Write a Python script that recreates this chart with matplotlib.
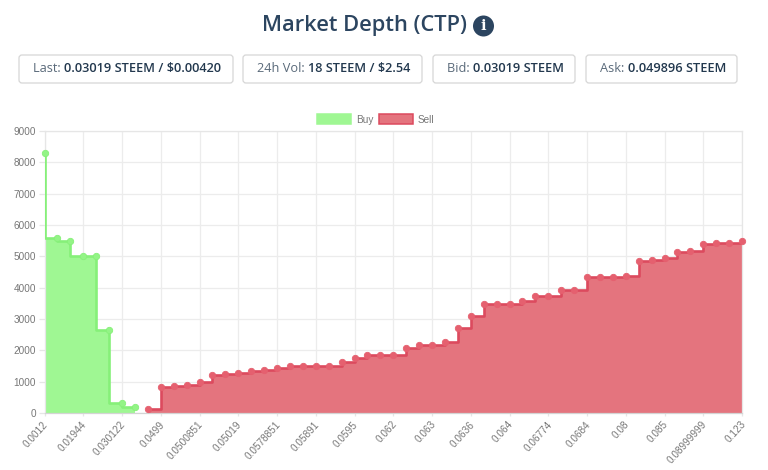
import numpy as np
import matplotlib
matplotlib.use('Agg')
import matplotlib.pyplot as plt
from matplotlib.patches import FancyBboxPatch, Circle, Patch
from matplotlib.transforms import ScaledTranslation

# Verdier lest av bildet
tick_labels = ['0.0012', '0.01944', '0.030122', '0.0499', '0.0500851', '0.05019',
               '0.0578851', '0.05891', '0.0595', '0.062', '0.063', '0.0636', '0.064',
               '0.06774', '0.0684', '0.08', '0.085', '0.08999999', '0.123']
buy = [8300, 5600, 5500, 5000, 5000, 2650, 330, 200]
sell = [120, 840, 870, 900, 1000, 1200, 1260, 1290, 1330, 1360, 1450, 1500, 1500, 1510, 1510,
        1640, 1770, 1850, 1860, 1860, 2060, 2160, 2170, 2265, 2700, 3095, 3480, 3490, 3490,
        3575, 3735, 3745, 3935, 3935, 4330, 4350, 4350, 4360, 4860, 4895, 4945, 5150, 5170,
        5395, 5415, 5435, 5480]
boxes = [('Last: ', '0.03019 STEEM / $0.00420', 19, 233),
         ('24h Vol: ', '18 STEEM / $2.54', 243, 422),
         ('Bid: ', '0.03019 STEEM', 433, 575),
         ('Ask: ', '0.049896 STEEM', 586, 737)]

W, H = 768, 470
fig = plt.figure(figsize=(W / 100, H / 100), dpi=100)

# Akse med pikselkoordinater for tittel og bokser
bg = fig.add_axes([0, 0, 1, 1])
bg.set_xlim(0, W)
bg.set_ylim(H, 0)
bg.axis('off')

navy = '#2c4560'
bg.text(364.5, 25.5, 'Market Depth (CTP)', family='Open Sans', fontsize=15.75, weight='semibold',
        color=navy, ha='center', va='center')
bg.add_patch(Circle((483.5, 26), 10.5, color=navy, lw=0))
bg.text(483.5, 26, 'i', family='DejaVu Serif', fontsize=10.5, weight='bold', color='white',
        ha='center', va='center')

for light, bold, x0, x1 in boxes:
    bg.add_patch(FancyBboxPatch((x0, 55), x1 - x0, 28, boxstyle='round,pad=0,rounding_size=3',
                                fc='white', ec='#d6d6d6', lw=0.9))
    t = bg.text(x0 + 14, 69, light, family='Open Sans', fontsize=9.2, color='#5a6a7a', va='center')
    fig.canvas.draw()
    bb = t.get_window_extent()
    bg.text(bb.x1, 69, bold, family='Open Sans', fontsize=9.2, weight='semibold',
            color='#22384e', va='center')

# Selve diagrammet
ax = fig.add_axes([44.5 / W, (H - 413) / H, (742 - 44.5) / W, (413 - 131) / H])
ax.patch.set_alpha(0)
x_buy = np.arange(len(buy))
x_sell = np.arange(len(sell)) + 8
n = len(tick_labels) * 3 - 2

buy_fill, buy_line = '#9ff793', '#86f079'
sell_fill, sell_line = '#e4747e', '#dc4a5e'
buy_dot, sell_dot = '#93f486', '#e5606f'

ax.fill_between(x_buy, buy, 0, step='pre', color=buy_fill, lw=0, zorder=2)
ax.plot(x_buy, buy, drawstyle='steps-pre', color=buy_line, lw=1.9, zorder=3)
ax.plot(x_buy, buy, 'o', color=buy_dot, mec=buy_line, mew=0.6, ms=4.6, zorder=4, clip_on=False)

ax.fill_between(x_sell, sell, 0, step='post', color=sell_fill, lw=0, zorder=2)
ax.plot(x_sell, sell, drawstyle='steps-post', color=sell_line, lw=1.9, zorder=3)
ax.plot(x_sell, sell, 'o', color=sell_dot, mec=sell_dot, mew=0.6, ms=4.6, zorder=4, clip_on=False)

ax.set_xlim(0, n - 1)
ax.set_ylim(0, 9000)
ax.set_yticks(range(0, 9001, 1000))
ax.set_xticks(range(0, n, 3))
ax.set_xticklabels(tick_labels, rotation=48, ha='right', va='center', rotation_mode='anchor')
ax.grid(True, color='#ececec', lw=0.9, zorder=0)
ax.set_axisbelow(True)
for s in ax.spines.values():
    s.set_color('#e6e6e6')
    s.set_linewidth(0.9)
ax.spines['bottom'].set_color('#d4d4d4')
ax.tick_params(axis='y', color='#e6e6e6', length=4.2, width=0.9, labelcolor='#777777',
               labelsize=7.2, pad=2)
ax.tick_params(axis='x', color='#e6e6e6', length=2, width=0.9, labelcolor='#777777',
               labelsize=7.2, pad=5)
shift = ScaledTranslation(2 / 100, 0, fig.dpi_scale_trans)
for lab in ax.get_xticklabels():
    lab.set_family('Liberation Sans')
    lab.set_transform(lab.get_transform() + shift)
for lab in ax.get_yticklabels():
    lab.set_family('Liberation Sans')

handles = [Patch(fc=buy_fill, ec=buy_fill, lw=1.1, label='Buy'),
           Patch(fc=sell_fill, ec=sell_line, lw=1.1, label='Sell')]
leg = ax.legend(handles=handles, ncol=2, loc='lower center', bbox_to_anchor=(0.475, 0.998), frameon=False,
                prop={'family': 'Liberation Sans', 'size': 7.2}, handlelength=3.4, handleheight=1.15,
                handletextpad=0.5, columnspacing=0.5, borderpad=0.2)
for t in leg.get_texts():
    t.set_color('#777777')

fig.savefig('out.png', dpi=100)
